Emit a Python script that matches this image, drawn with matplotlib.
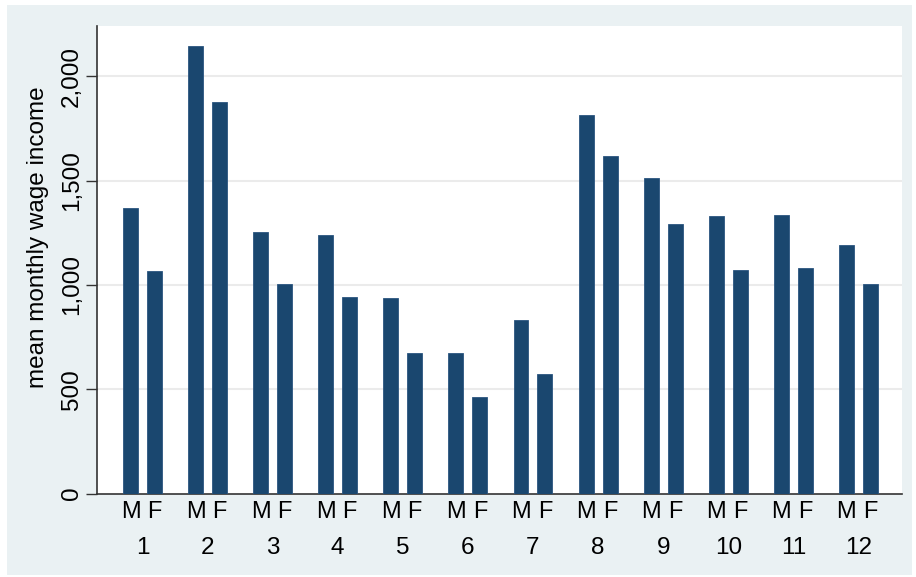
import matplotlib
matplotlib.use('Agg')
import matplotlib.pyplot as plt
import numpy as np
from matplotlib.patches import Rectangle

groups = ['1', '2', '3', '4', '5', '6', '7', '8', '9', '10', '11', '12']
male = [1368, 2147, 1256, 1238, 936, 675, 834, 1815, 1514, 1332, 1337, 1192]
female = [1069, 1879, 1005, 942, 675, 464, 573, 1618, 1291, 1072, 1083, 1006]
yticks = [0, 500, 1000, 1500, 2000]
ylabels = ['0', '500', '1,000', '1,500', '2,000']

plt.rcParams['font.family'] = ['Liberation Sans', 'DejaVu Sans']

fig = plt.figure(figsize=(9.16, 5.77), dpi=100, facecolor='white')
# light stata-like background panel
fig.patches.append(Rectangle((7/916, 1-575/577), 905/916, 570/577,
                             transform=fig.transFigure, facecolor='#EAF1F3',
                             edgecolor='none', zorder=-10))

ax = fig.add_axes([97/916, 1-493.6/577, 805/916, 467.6/577])
ax.set_facecolor('white')

x = np.arange(len(groups))
off = 0.184
w = 0.23
bar_col = '#1A476F'
ax.bar(x - off, male, w, color=bar_col, edgecolor='#2a5580', linewidth=0.6, zorder=3)
ax.bar(x + off, female, w, color=bar_col, edgecolor='#2a5580', linewidth=0.6, zorder=3)

ax.set_xlim(-0.699, 11.67)
ax.set_ylim(0, 2241)

# y axis
ax.set_yticks(yticks)
ax.set_yticklabels(ylabels, rotation=90, va='center', fontsize=17.5)
ax.tick_params(axis='y', length=8, width=1, color='#333333', pad=2)
for v in yticks[1:]:
    ax.axhline(v, color='#EBEBEB', lw=1.5, zorder=1)
ax.set_ylabel('mean monthly wage income', fontsize=17.5)
ax.yaxis.set_label_coords(-0.06, 0.548)

# x axis: M/F labels under each bar, group number below
pos = np.concatenate([x - off, x + off])
lab = ['M'] * len(groups) + ['F'] * len(groups)
ax.set_xticks(pos)
ax.set_xticklabels(lab, fontsize=17)
ax.tick_params(axis='x', length=0, pad=5)
for i, g in enumerate(groups):
    ax.text(i, -0.117, g, transform=ax.get_xaxis_transform(),
            ha='center', va='center', fontsize=17.5)

for s in ['top', 'right']:
    ax.spines[s].set_visible(False)
for s in ['left', 'bottom']:
    ax.spines[s].set_color('#333333')
    ax.spines[s].set_linewidth(1.2)

fig.savefig('out.png', dpi=100, facecolor='white')
